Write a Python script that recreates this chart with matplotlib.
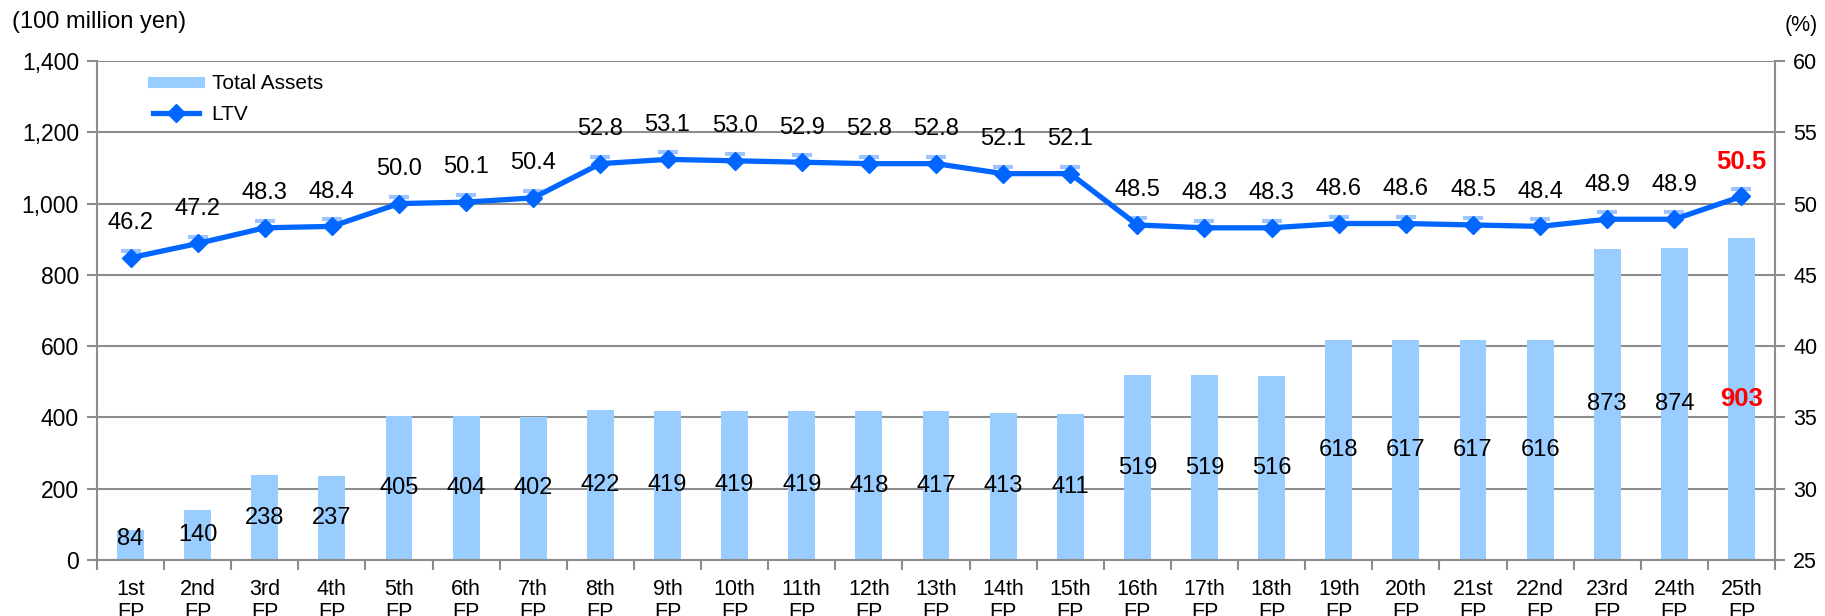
#!/usr/bin/env python3

import numpy as np
import matplotlib
matplotlib.use("Agg")
import matplotlib.pyplot as plt
import matplotlib.transforms as mtrans
from matplotlib.lines import Line2D

periods = ["1st", "2nd", "3rd", "4th", "5th", "6th", "7th", "8th", "9th",
           "10th", "11th", "12th", "13th", "14th", "15th", "16th", "17th",
           "18th", "19th", "20th", "21st", "22nd", "23rd", "24th", "25th"]
total_assets = [84, 140, 238, 237, 405, 404, 402, 422, 419, 419, 419, 418,
                417, 413, 411, 519, 519, 516, 618, 617, 617, 616, 873, 874, 903]
ltv = [46.2, 47.2, 48.3, 48.4, 50.0, 50.1, 50.4, 52.8, 53.1, 53.0, 52.9, 52.8,
       52.8, 52.1, 52.1, 48.5, 48.3, 48.3, 48.6, 48.6, 48.5, 48.4, 48.9, 48.9, 50.5]

BAR = "#99CCFF"
LINE = "#0066FF"
GRID = "#8c8c8c"


def main():
    plt.rcParams["font.family"] = ["Liberation Sans", "DejaVu Sans"]
    fig = plt.figure(figsize=(18.25, 6.16), dpi=100)
    W, H = 1825, 616
    ax = fig.add_axes([97 / W, (H - 560) / H, (1775 - 97) / W, (560 - 61) / H])
    x = np.arange(len(periods))

    ax.bar(x, total_assets, width=0.4, color=BAR, zorder=2)
    ax.set_ylim(0, 1400)
    ax.set_yticks(np.arange(0, 1401, 200))
    ax.set_yticklabels([f"{v:,}" for v in range(0, 1401, 200)])
    ax.set_xlim(-0.5, len(periods) - 0.5)
    ax.grid(axis="y", color=GRID, lw=1.5, zorder=0)
    ax.set_axisbelow(True)

    ax.set_xticks(x)
    ax.set_xticklabels([p + "\nFP" for p in periods], linespacing=1.1)
    ax.set_xticks(np.arange(-0.5, len(periods), 1), minor=True)
    ax.tick_params(axis="x", which="major", length=0, pad=14, labelsize=15.5)
    ax.tick_params(axis="x", which="minor", length=7, width=1.5, color=GRID)
    ax.tick_params(axis="y", length=7, width=1.5, color=GRID, labelsize=16.5, pad=6)
    for s in ax.spines.values():
        s.set_color(GRID)
        s.set_linewidth(1.5)
    ax.spines["top"].set_visible(False)

    for i, v in enumerate(total_assets):
        last = i == len(total_assets) - 1
        ax.text(i, max(v / 2, 60), str(v), ha="center", va="center",
                fontsize=18.5 if last else 17, color="red" if last else "black",
                fontweight="bold" if last else "normal", zorder=4)

    ax2 = ax.twinx()
    ax2.set_ylim(25, 60)
    ax2.set_yticks(np.arange(25, 61, 5))
    ax2.tick_params(axis="y", length=7, width=1.5, color=GRID, labelsize=15.5, pad=6)
    for s in ax2.spines.values():
        s.set_visible(False)

    # faint highlight cap above each marker
    cap = mtrans.offset_copy(ax2.transData, fig=fig, x=0, y=5, units="points")
    ax2.plot(x, ltv, ls="none", marker="_", ms=14, mew=3, color="#9fc3ff",
             transform=cap, zorder=3)
    ax2.plot(x, ltv, color=LINE, lw=3.8, marker="D", ms=9.5, zorder=4)

    for i, v in enumerate(ltv):
        last = i == len(ltv) - 1
        ax2.annotate(f"{v:.1f}", (i, v), xytext=(0, 25), textcoords="offset points",
                     ha="center", va="center", fontsize=18.5 if last else 17,
                     color="red" if last else "black",
                     fontweight="bold" if last else "normal")

    handles = [Line2D([], [], color=BAR, lw=8),
               Line2D([], [], color=LINE, lw=3.8, marker="D", ms=9)]
    fig.legend(handles, ["Total Assets", "LTV"], loc="upper left",
               bbox_to_anchor=(145 / W, 1 - 66 / H), frameon=False, fontsize=15,
               handlelength=2.2, labelspacing=0.55, handletextpad=0.6,
               borderaxespad=0)

    fig.text(12 / W, 1 - 22 / H, "(100 million yen)", fontsize=17, va="center")
    fig.text(1785 / W, 1 - 25 / H, "(%)", fontsize=15.5, va="center")

    fig.savefig("out.png", dpi=100)


if __name__ == "__main__":
    main()
